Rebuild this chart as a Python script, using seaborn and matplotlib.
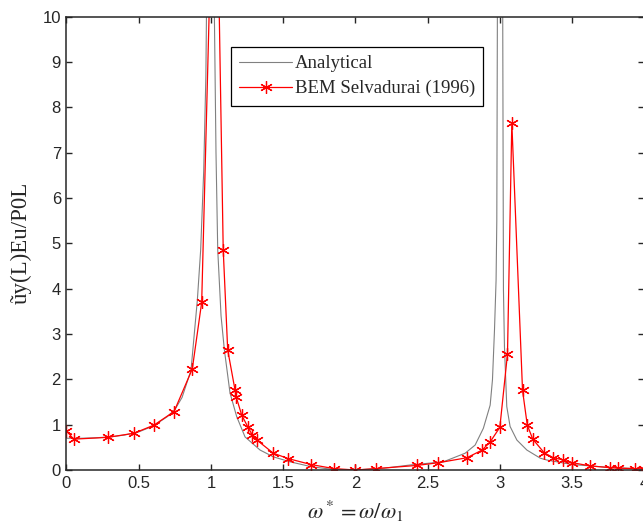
import matplotlib
matplotlib.use('Agg')
import pandas as pd
import seaborn as sns
import matplotlib.pyplot as plt

# analytical response
ana_w = [0.0, 0.1, 0.2, 0.3, 0.4, 0.5, 0.6, 0.7, 0.75, 0.8, 0.862, 0.906, 0.929,
         0.95, 0.965, 0.975, 0.99, 1.0, 1.01, 1.024, 1.035, 1.047, 1.07, 1.093,
         1.132, 1.178, 1.236, 1.34, 1.432, 1.548, 1.698, 1.85, 2.0, 2.2, 2.379,
         2.609, 2.76, 2.829, 2.886, 2.933, 2.949, 2.963, 2.974, 2.979, 2.983,
         3.0, 3.02, 3.025, 3.032, 3.048, 3.071, 3.118, 3.187, 3.28, 3.325, 3.5,
         3.75, 4.0]
ana_u = [0.70, 0.70, 0.71, 0.73, 0.77, 0.84, 0.97, 1.18, 1.33, 1.60, 2.20, 3.75, 4.86,
         6.6, 8.7, 12.0, 30.0, 100.0, 30.0, 10.0, 7.0, 4.86, 3.4, 2.65,
         1.70, 1.18, 0.73, 0.44, 0.29, 0.18, 0.07, 0.01, 0.0, 0.04, 0.11,
         0.18, 0.37, 0.55, 0.92, 1.43, 1.99, 3.09, 4.19, 5.5, 10.0,
         100.0, 10.0, 3.97, 2.72, 1.40, 0.96, 0.66, 0.44, 0.26, 0.22, 0.12,
         0.06, 0.02]

# BEM results, Selvadurai (1996)
bem_w = [0.0, 0.05, 0.287, 0.467, 0.606, 0.745, 0.871, 0.936, 1.03, 1.085, 1.116,
         1.167, 1.174, 1.213, 1.257, 1.285, 1.318, 1.432, 1.536, 1.693, 1.852, 2.0,
         2.142, 2.425, 2.575, 2.772, 2.878, 2.933, 3.0, 3.053, 3.083, 3.157, 3.19,
         3.228, 3.307, 3.371, 3.44, 3.503, 3.625, 3.764, 3.821, 3.937, 4.0]
bem_u = [0.86, 0.68, 0.72, 0.81, 0.99, 1.29, 2.23, 3.70, 15.3, 4.86, 2.65,
         1.76, 1.62, 1.21, 0.94, 0.78, 0.66, 0.37, 0.25, 0.12, 0.03, 0.0,
         0.03, 0.10, 0.16, 0.27, 0.44, 0.62, 0.94, 2.56, 7.66, 1.76, 0.99,
         0.68, 0.38, 0.27, 0.22, 0.16, 0.09, 0.05, 0.04, 0.03, 0.02]

ana = pd.DataFrame({'w': ana_w, 'u': ana_u})
bem = pd.DataFrame({'w': bem_w, 'u': bem_u})

sns.set_style('ticks')
plt.rcParams['font.family'] = ['Liberation Sans', 'DejaVu Sans']
plt.rcParams['mathtext.fontset'] = 'stix'
plt.rcParams['xtick.direction'] = 'in'
plt.rcParams['ytick.direction'] = 'in'

fig = plt.figure(figsize=(6.43, 5.25), dpi=100)
ax = fig.add_axes([0.1034, 0.1048, 0.8986, 0.8634])

sns.lineplot(data=ana, x='w', y='u', ax=ax, color='#808080', linewidth=0.8,
             sort=False, estimator=None, label='Analytical')
sns.lineplot(data=bem, x='w', y='u', ax=ax, color='red', linewidth=0.9,
             marker=(6, 2, 0), markersize=9, markeredgecolor='red',
             markeredgewidth=0.9, sort=False, estimator=None,
             label='BEM Selvadurai (1996)')

ax.set_xlim(0, 4)
ax.set_ylim(0, 10)
ax.set_xticks([0, 0.5, 1, 1.5, 2, 2.5, 3, 3.5, 4])
ax.set_xticklabels(['0', '0.5', '1', '1.5', '2', '2.5', '3', '3.5', '4'])
ax.set_yticks(range(0, 11))
ax.tick_params(axis='both', labelsize=12, length=4, width=1,
               top=True, right=True, pad=4)
for s in ax.spines.values():
    s.set_linewidth(1.1)
    s.set_visible(True)

ax.set_ylabel('ũy(L)Eu/P0L', fontsize=16.5, family=['Liberation Serif'], labelpad=8)
ax.set_xlabel(r'$\omega^* = \omega/\omega_1$', fontsize=16, labelpad=6)

leg = ax.legend(loc='upper left', bbox_to_anchor=(0.2847, 0.934), fancybox=False,
                edgecolor='black', framealpha=1, handlelength=2.8,
                prop={'family': 'Liberation Serif', 'size': 13.5},
                borderpad=0.45, labelspacing=0.42, handletextpad=0.15,
                borderaxespad=0)
leg.get_frame().set_linewidth(0.9)

fig.savefig('out.png', dpi=100)
